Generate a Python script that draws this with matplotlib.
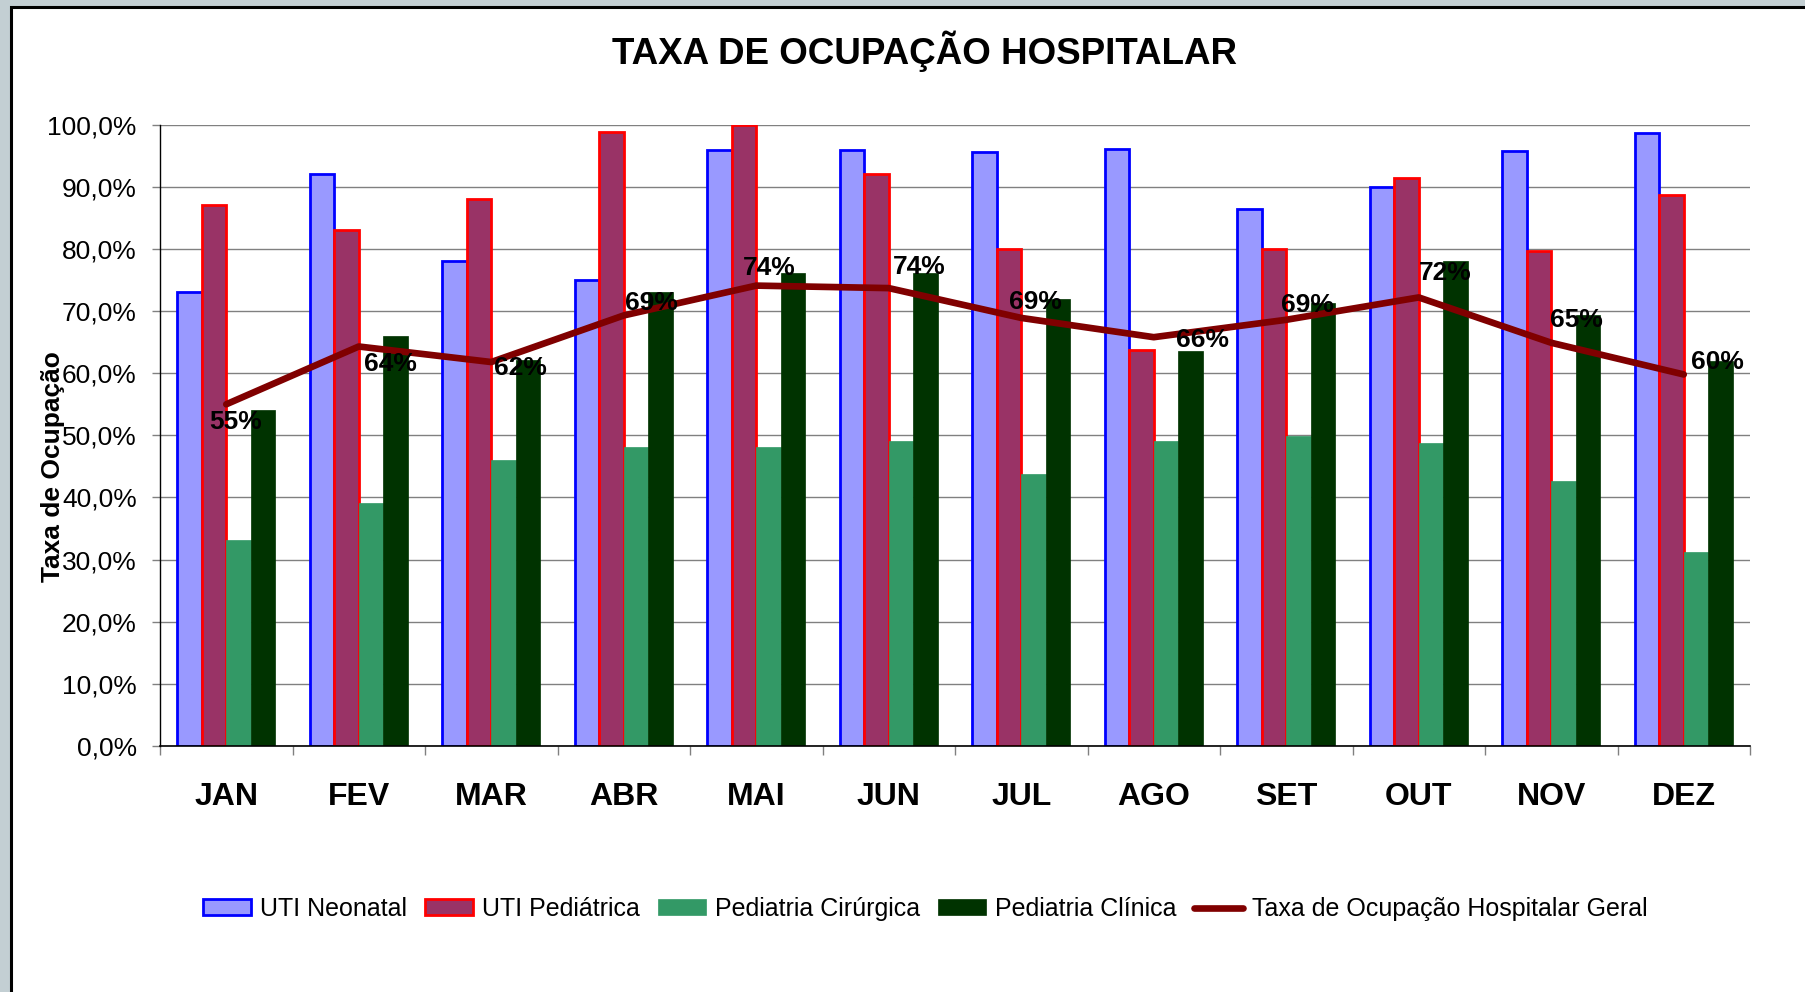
import numpy as np
import matplotlib
matplotlib.use("Agg")
import matplotlib.pyplot as plt
from matplotlib.patches import Rectangle
from matplotlib.ticker import FuncFormatter, MultipleLocator

# dados (%)
meses = ["JAN", "FEV", "MAR", "ABR", "MAI", "JUN", "JUL", "AGO", "SET", "OUT", "NOV", "DEZ"]
uti_neonatal = [73.0, 92.0, 78.1, 75.0, 95.9, 95.9, 95.6, 96.1, 86.4, 90.0, 95.7, 98.7]
uti_pediatrica = [87.1, 83.1, 88.0, 98.9, 100.0, 92.0, 80.0, 63.7, 80.0, 91.5, 79.6, 88.7]
ped_cirurgica = [33.1, 39.1, 46.1, 48.1, 48.1, 49.1, 43.7, 49.1, 49.9, 48.8, 42.6, 31.3]
ped_clinica = [54.1, 66.0, 62.1, 73.1, 76.1, 76.1, 72.0, 63.6, 71.3, 78.1, 69.4, 62.0]
taxa_geral = [55.0, 64.3, 61.8, 69.3, 74.1, 73.7, 68.9, 65.8, 68.6, 72.2, 64.9, 59.8]

# deslocamento dos rotulos da linha (pixels)
label_offsets = [(9, -18), (32, -17), (29, -6), (28, 12), (13, 18), (31, 21),
                 (14, 16), (49, -3), (21, 15), (27, 24), (25, 23), (34, 12)]

W, H = 1805, 992
fig = plt.figure(figsize=(W / 100, H / 100), dpi=100, facecolor="#c3cfd3")
fig.add_artist(Rectangle((11 / W, -0.01), 1.0, 1 - 7 / H + 0.01, transform=fig.transFigure,
                         facecolor="white", edgecolor="black", linewidth=2.2, zorder=-10))

ax = fig.add_axes([160 / W, 1 - 746 / H, 1590 / W, 621.3 / H])
ax.patch.set_alpha(0)

x = np.arange(len(meses))
bw = 0.185
series = [
    (uti_neonatal, "UTI Neonatal", "#9999ff", "#0000ff", 2.0),
    (uti_pediatrica, "UTI Pediátrica", "#993366", "#ff0000", 2.0),
    (ped_cirurgica, "Pediatria Cirúrgica", "#339966", "#339966", 0.5),
    (ped_clinica, "Pediatria Clínica", "#003300", "#003300", 0.5),
]
handles = []
for i, (vals, name, fc, ec, lw) in enumerate(series):
    b = ax.bar(x + (i - 1.5) * bw, vals, bw, color=fc, edgecolor=ec, linewidth=lw,
               label=name, zorder=2)
    handles.append(b)

ln, = ax.plot(x, taxa_geral, color="#800000", linewidth=4.8, solid_capstyle="round",
              label="Taxa de Ocupação Hospitalar Geral", zorder=3)
handles.append(ln)
for xi, v, (dx, dy) in zip(x, taxa_geral, label_offsets):
    ax.annotate(f"{v:.0f}%", (xi, v), xytext=(dx, dy), textcoords="offset pixels",
                ha="center", va="center", fontsize=19, fontweight="bold",
                family="Liberation Sans", zorder=4)

ax.set_xlim(-0.5, len(meses) - 0.5)
ax.set_ylim(0, 100)
ax.yaxis.set_major_locator(MultipleLocator(10))
ax.yaxis.set_major_formatter(FuncFormatter(lambda v, p: f"{v:.1f}%".replace(".", ",")))
ax.grid(axis="y", color="#808080", linewidth=1.0, zorder=0)
ax.set_axisbelow(True)

ax.set_xticks(x)
ax.set_xticklabels(meses, fontsize=23, fontweight="bold", family="Liberation Sans")
ax.set_xticks(np.arange(len(meses) + 1) - 0.5, minor=True)
ax.tick_params(axis="x", which="major", length=0, pad=26)
ax.tick_params(axis="x", which="minor", length=6.5, color="#808080", width=1)
ax.tick_params(axis="y", length=5.8, color="#808080", width=1, pad=11, labelsize=19)
for lab in ax.get_yticklabels():
    lab.set_family("Liberation Sans")

for s in ["top", "right"]:
    ax.spines[s].set_visible(False)
ax.spines["left"].set_color("black")
ax.spines["left"].set_linewidth(1.0)
ax.spines["bottom"].set_color("black")
ax.spines["bottom"].set_linewidth(1.2)

fig.text(924 / W, 1 - 51 / H, "TAXA DE OCUPAÇÃO HOSPITALAR", ha="center", va="center",
         fontsize=26.5, fontweight="bold", family="Liberation Sans")
fig.text(53 / W, 1 - 467 / H, "Taxa de Ocupação", rotation=90, ha="center", va="center",
         fontsize=19, fontweight="bold", family="Liberation Sans")

fig.legend(handles=handles, loc="center", bbox_to_anchor=(925 / W, 1 - 909 / H), ncol=5,
           frameon=False, prop={"family": "Liberation Sans", "size": 18},
           handlelength=1.95, handleheight=0.6, handletextpad=0.35, columnspacing=0.7)

fig.savefig("out.png", dpi=100, facecolor=fig.get_facecolor())
